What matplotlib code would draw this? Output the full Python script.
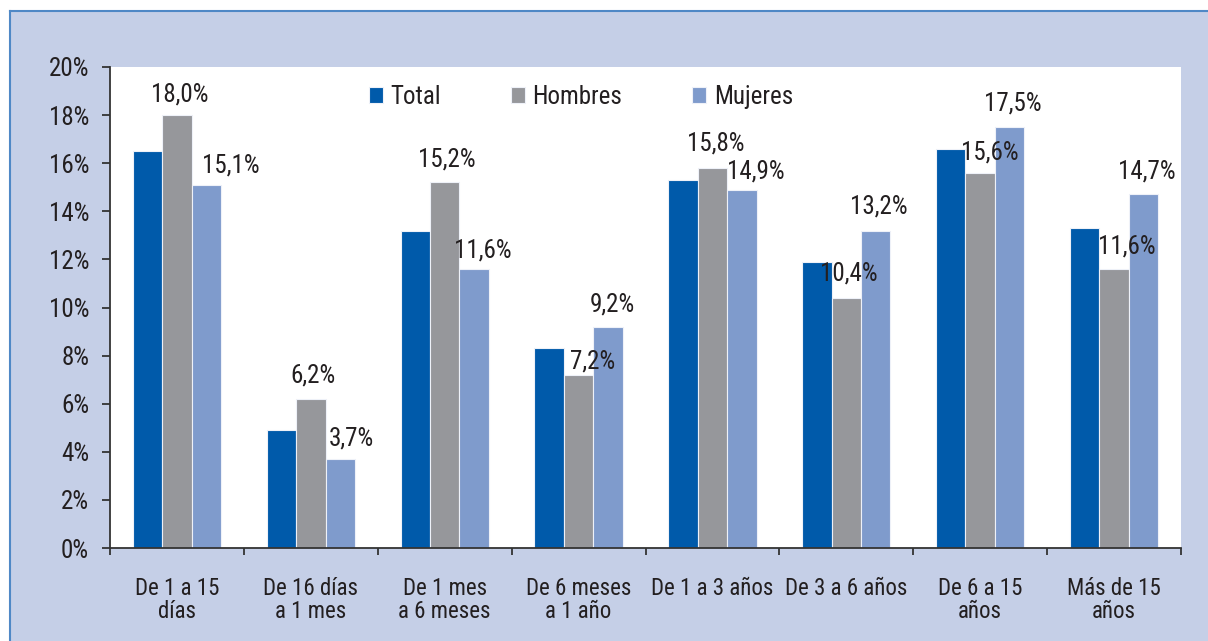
import matplotlib
matplotlib.use('Agg')
import matplotlib.pyplot as plt
from matplotlib.patches import Rectangle
from matplotlib.lines import Line2D
import numpy as np

plt.rcParams['font.family'] = ['Roboto Condensed', 'Archivo Narrow', 'DejaVu Sans']

# datos
categorias = ['De 1 a 15\ndías', 'De 16 días\na 1 mes', 'De 1 mes\na 6 meses', 'De 6 meses\na 1 año',
              'De 1 a 3 años', 'De 3 a 6 años', 'De 6 a 15\naños', 'Más de 15\naños']
series = ['Total', 'Hombres', 'Mujeres']
total = [16.5, 4.9, 13.2, 8.3, 15.3, 11.9, 16.6, 13.3]
hombres = [18.0, 6.2, 15.2, 7.2, 15.8, 10.4, 15.6, 11.6]
mujeres = [15.1, 3.7, 11.6, 9.2, 14.9, 13.2, 17.5, 14.7]
yticks = [0, 2, 4, 6, 8, 10, 12, 14, 16, 18, 20]

colores = ['#005aaa', '#96979b', '#7f9bcc']
panel_color = '#c5cfe7'
borde_color = '#4f88c6'
texto_color = '#231f20'

# desplazamientos de las etiquetas (pixeles)
hombres_dx = [3, 2, 2, 14, 3, 2, 10, 13]
hombres_dy = [21, 23, 23, 13, 25, 24, 20, 23]
mujeres_dx = [24, 11, 9, 4, 14, 3, 3, 3]
mujeres_dy = [19, 21, 19, 22, 18, 24, 24, 23]

W, H = 1208, 641
fig = plt.figure(figsize=(W / 100, H / 100), dpi=100, facecolor='white')

# panel de fondo
fig.patches.append(Rectangle((10 / W, 0), 1 - 10 / W, 1 - 10.5 / H, transform=fig.transFigure,
                             facecolor=panel_color, edgecolor='none', zorder=-10))
fig.lines.append(Line2D([10 / W, 1], [1 - 10.5 / H, 1 - 10.5 / H], transform=fig.transFigure,
                        color=borde_color, lw=1.5, zorder=-9))
fig.lines.append(Line2D([10 / W, 10 / W], [0, 1 - 10.5 / H], transform=fig.transFigure,
                        color=borde_color, lw=1.5, zorder=-9))

ax = fig.add_axes([110 / W, 1 - 548 / H, (1181 - 110) / W, (548 - 67) / H])
ax.set_facecolor('white')

x = np.arange(len(categorias))
ancho = 0.22
datos = [total, hombres, mujeres]
for i, (nombre, vals) in enumerate(zip(series, datos)):
    ax.bar(x + (i - 1) * ancho, vals, ancho, color=colores[i], label=nombre,
           edgecolor='#eef1f8', linewidth=0.8, zorder=2)

def fmt(v):
    return ('%.1f%%' % v).replace('.', ',')

for j in range(len(categorias)):
    ax.annotate(fmt(hombres[j]), (x[j], hombres[j]), xytext=(hombres_dx[j], hombres_dy[j]),
                textcoords='offset pixels', ha='center', va='center', fontsize=18,
                color=texto_color, zorder=3)
    ax.annotate(fmt(mujeres[j]), (x[j] + ancho, mujeres[j]), xytext=(mujeres_dx[j], mujeres_dy[j]),
                textcoords='offset pixels', ha='center', va='center', fontsize=18,
                color=texto_color, zorder=3)

ax.set_xlim(-0.5, len(categorias) - 0.5)
ax.set_ylim(0, 20)
ax.set_yticks(yticks)
ax.set_yticklabels(['%d%%' % t for t in yticks])
ax.set_xticks(np.arange(len(categorias) + 1) - 0.5)
ax.set_xticklabels([])
ax.set_xticks(x, minor=True)
ax.set_xticklabels(categorias, minor=True, linespacing=1.0)
ax.tick_params(axis='x', which='minor', length=0, pad=21, labelsize=16.5, labelcolor=texto_color)
ax.tick_params(axis='x', which='major', length=5, width=1.3, color='#333333', direction='out')
ax.tick_params(axis='y', length=6, width=1.3, color='#333333', pad=9, labelsize=18,
               labelcolor=texto_color)

for s in ['top', 'right']:
    ax.spines[s].set_visible(False)
for s in ['left', 'bottom']:
    ax.spines[s].set_color('#333333')
    ax.spines[s].set_linewidth(1.3)

ax.legend(loc='center', bbox_to_anchor=(0.44, 0.938), ncol=3, frameon=False, fontsize=18,
          handlelength=0.55, handleheight=0.55, handletextpad=0.3, columnspacing=2.8,
          labelcolor=texto_color)

fig.savefig('out.png', dpi=100, facecolor='white')
